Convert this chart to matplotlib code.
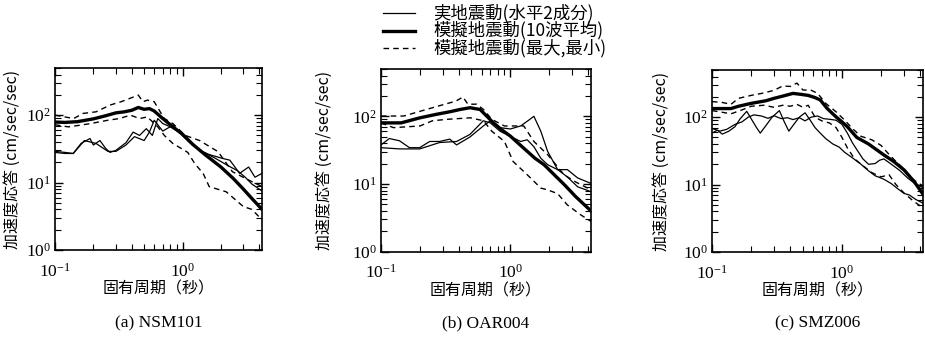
import matplotlib
matplotlib.use('Agg')
import matplotlib.pyplot as plt
from matplotlib.lines import Line2D
from matplotlib.ticker import LogLocator, NullFormatter

plt.rcParams['font.family'] = ['Noto Sans CJK JP', 'DejaVu Sans']

# ---- (a) NSM101 ----
a_obs1_T = [0.1, 0.12, 0.139, 0.16, 0.188, 0.2, 0.225, 0.25, 0.27, 0.3, 0.36, 0.41, 0.46, 0.52, 0.58, 0.64,
            0.7, 0.79, 0.94, 1.13, 1.36, 1.62, 2.06, 2.35, 2.8, 3.3, 3.7, 4.2]
a_obs1_A = [29, 28, 27, 38, 45, 36, 42, 32, 28, 30, 39, 56, 50, 63, 50, 89,
            75, 68, 56, 40, 30, 26, 22.8, 21.5, 13.7, 17, 12, 13.7]
a_obs2_T = [0.1, 0.12, 0.139, 0.17, 0.21, 0.26, 0.3, 0.36, 0.42, 0.5, 0.55, 0.6, 0.7, 0.84, 1.0, 1.2,
            1.43, 1.8, 2.3, 2.7, 3.1, 3.5, 4.2]
a_obs2_A = [28, 27, 27, 42, 38, 29, 29, 36, 48, 42, 56, 84, 58, 71, 50, 36,
            29, 23, 17.6, 15, 12, 9.5, 7.5]
a_mean_T = [0.1, 0.12, 0.15, 0.2, 0.25, 0.3, 0.35, 0.4, 0.45, 0.5, 0.55, 0.6, 0.7, 0.84, 1.0, 1.2,
            1.5, 2.0, 2.5, 3.0, 3.5, 4.2]
a_mean_A = [79, 78, 80, 88, 98, 108, 112, 118, 130, 122, 125, 115, 89, 67, 52, 37,
            26, 17, 11.5, 8, 5.8, 4.0]
a_max_T = [0.1, 0.14, 0.166, 0.21, 0.27, 0.33, 0.45, 0.49, 0.53, 0.6, 0.68, 0.72, 0.84, 1.05, 1.36,
           1.9, 2.46, 3.3, 4.2]
a_max_A = [100, 89, 106, 112, 141, 158, 198, 158, 167, 158, 106, 89, 75, 50, 42,
           28.7, 14.5, 10.9, 8.7]
a_min_T = [0.1, 0.127, 0.15, 0.19, 0.26, 0.32, 0.39, 0.46, 0.53, 0.64, 0.72, 0.84, 1.1, 1.25, 1.45,
           1.62, 2.2, 3.0, 3.5, 4.2]
a_min_A = [72, 67, 70, 75, 84, 89, 100, 89, 94, 67, 50, 38, 28, 19, 13.7,
           8.7, 7.3, 4.4, 4.0, 2.8]

# ---- (b) OAR004 ----
b_obs1_T = [0.1, 0.116, 0.139, 0.166, 0.199, 0.238, 0.284, 0.34, 0.384, 0.487, 0.617, 0.7, 0.835, 1.0,
            1.2, 1.35, 1.52, 1.72, 1.94, 2.32, 2.76, 3.31, 4.2]
b_obs1_A = [37.8, 47, 43.5, 34.4, 34.4, 42.5, 42.5, 46, 37.8, 49.5, 71.8, 86, 68, 65,
            72, 84.5, 100, 60, 30.4, 16.3, 16.3, 12.3, 10.2]
b_obs2_T = [0.1, 0.139, 0.199, 0.284, 0.384, 0.487, 0.617, 0.7, 0.835, 1.0, 1.2, 1.35, 1.52, 1.72,
            1.94, 2.32, 2.76, 3.31, 4.2]
b_obs2_A = [34.4, 33, 33, 41, 42.5, 54, 86, 80, 60, 50.6, 42.5, 45, 35.5, 24,
            19.3, 16.3, 12.7, 9.1, 7.7]
b_mean_T = [0.1, 0.143, 0.2, 0.268, 0.35, 0.407, 0.488, 0.584, 0.74, 0.85, 1.0, 1.15, 1.35, 1.55,
            1.82, 2.2, 2.61, 3.2, 4.2]
b_mean_A = [80, 80, 95, 107, 118, 126, 134, 126, 80, 64, 51, 40, 30.4, 24,
            19.3, 13.5, 9.8, 6.5, 4.0]
b_max_T = [0.1, 0.15, 0.25, 0.38, 0.43, 0.47, 0.55, 0.62, 0.72, 0.9, 1.0, 1.27, 1.52, 1.94, 2.6,
           3.2, 4.2]
b_max_A = [101, 101, 134, 168, 193, 151, 151, 126, 90, 72, 72, 72, 42.5, 27.2, 13.7,
           10.7, 8.2]
b_min_T = [0.1, 0.125, 0.2, 0.25, 0.33, 0.49, 0.62, 0.72, 0.9, 1.05, 1.35, 1.72, 1.94, 2.32, 2.76,
           3.5, 4.2]
b_min_A = [80, 68, 72, 86, 90.5, 95, 86, 60, 42.5, 21.5, 13.7, 8.7, 8.2, 7.2, 4.9,
           3.5, 2.8]

# ---- (c) SMZ006 ----
c_obs1_T = [0.1, 0.115, 0.13, 0.15, 0.17, 0.19, 0.21, 0.24, 0.27, 0.3, 0.34, 0.38, 0.42, 0.47, 0.52,
            0.58, 0.65, 0.72, 0.8, 0.9, 1.0, 1.1, 1.2, 1.3, 1.45, 1.6, 1.8, 1.95, 2.1, 2.4, 2.8,
            3.2, 3.6, 4.2]
c_obs1_A = [68, 62, 66, 78, 85, 100, 108, 104, 96, 105, 95, 98, 92, 98, 88,
            100, 104, 95, 93, 90, 78, 58, 42, 33, 24, 20, 20.5, 23, 24, 20, 16,
            12.5, 10.5, 9.0]
c_obs2_T = [0.1, 0.11, 0.12, 0.135, 0.15, 0.165, 0.185, 0.2, 0.22, 0.235, 0.26, 0.29, 0.33, 0.36, 0.39,
            0.43, 0.47, 0.52, 0.57, 0.62, 0.68, 0.75, 0.85, 0.95, 1.05, 1.2, 1.4, 1.6, 1.8, 2.1,
            2.4, 2.7, 3.0, 3.3, 3.7, 4.2]
c_obs2_A = [58, 64, 56, 62, 72, 95, 122, 95, 70, 58, 75, 100, 125, 85, 62,
            80, 100, 116, 90, 70, 58, 48, 40, 36, 30, 25, 20, 16, 13.5, 12,
            10.3, 8.6, 7.4, 7.0, 6.0, 5.3]
c_mean_T = [0.1, 0.14, 0.16, 0.2, 0.26, 0.3, 0.35, 0.42, 0.48, 0.55, 0.62, 0.68, 0.77, 0.9, 1.0,
            1.1, 1.3, 1.6, 2.1, 2.5, 3.0, 3.6, 4.2]
c_mean_A = [134, 134, 145, 160, 175, 190, 205, 225, 218, 210, 195, 180, 134, 101, 85,
            72, 50, 40, 27.5, 22, 16.5, 11, 7.2]
c_max_T = [0.1, 0.12, 0.14, 0.16, 0.2, 0.25, 0.3, 0.35, 0.4, 0.45, 0.5, 0.58, 0.65, 0.75, 0.9,
           1.05, 1.2, 1.4, 1.7, 2.0, 2.3, 2.6, 3.0, 3.5, 4.2]
c_max_A = [170, 165, 155, 190, 210, 228, 250, 290, 285, 320, 253, 250, 225, 160, 120,
           90, 68, 52, 46, 38, 28, 22, 17, 12, 9.5]
c_min_T = [0.1, 0.12, 0.14, 0.17, 0.2, 0.25, 0.3, 0.35, 0.4, 0.45, 0.5, 0.55, 0.62, 0.7, 0.8,
           0.9, 1.0, 1.1, 1.25, 1.45, 1.7, 2.0, 2.3, 2.6, 3.0, 3.5, 4.2]
c_min_A = [125, 118, 112, 128, 145, 150, 140, 150, 145, 155, 140, 150, 100, 88, 82,
           70, 50, 35, 24, 19, 15, 13, 14, 10, 7.5, 5.8, 4.5]

legend_labels = ['実地震動(水平2成分)', '模擬地震動(10波平均)', '模擬地震動(最大,最小)']
panel_titles = ['(a) NSM101', '(b) OAR004', '(c) SMZ006']
xlabel = '固有周期（秒）'
ylabel = '加速度応答 (cm/sec/sec)'

DASH = (0, (4, 3))
W, H = 925.0, 343.0


def draw_panel(ax, thin, thick, dashed):
  for T, A in thin:
    ax.plot(T, A, color='black', lw=0.9)
  ax.plot(thick[0], thick[1], color='black', lw=2.4)
  for T, A in dashed:
    ax.plot(T, A, color='black', lw=1.0, ls=DASH)
  ax.set_xscale('log')
  ax.set_yscale('log')
  ax.set_xlim(0.1, 4.2)
  ax.set_ylim(1, 500)
  for axis in (ax.xaxis, ax.yaxis):
    axis.set_minor_locator(LogLocator(base=10, subs=range(2, 10)))
    axis.set_minor_formatter(NullFormatter())
  ax.tick_params(which='both', direction='in', top=True, right=True,
                 labelfontfamily='Liberation Serif', labelsize=12.5)
  ax.tick_params(axis='x', which='both', pad=9)
  ax.tick_params(axis='y', which='both', pad=3)
  ax.tick_params(which='major', length=6, width=1.0)
  ax.tick_params(which='minor', length=4, width=0.8)
  for s in ax.spines.values():
    s.set_linewidth(1.2)
  ax.set_xlabel(xlabel, fontsize=11.5, labelpad=0)
  ax.set_ylabel(ylabel, fontsize=11.5)


fig = plt.figure(figsize=(9.25, 3.43), dpi=100)

# axes boxes in pixels: left, top, right, bottom
boxes = [(55, 68, 262, 250), (381, 69, 591, 251.7), (712, 70, 923, 252)]
ylab_px = [21, 333, 670]   # right edge of the rotated y label

panels = [
  ([(a_obs1_T, a_obs1_A), (a_obs2_T, a_obs2_A)], (a_mean_T, a_mean_A), [(a_max_T, a_max_A), (a_min_T, a_min_A)]),
  ([(b_obs1_T, b_obs1_A), (b_obs2_T, b_obs2_A)], (b_mean_T, b_mean_A), [(b_max_T, b_max_A), (b_min_T, b_min_A)]),
  ([(c_obs1_T, c_obs1_A), (c_obs2_T, c_obs2_A)], (c_mean_T, c_mean_A), [(c_max_T, c_max_A), (c_min_T, c_min_A)]),
]

for i, (l, t, r, b) in enumerate(boxes):
  ax = fig.add_axes([l / W, (H - b) / H, (r - l) / W, (b - t) / H])
  thin, thick, dashed = panels[i]
  draw_panel(ax, thin, thick, dashed)
  ax.yaxis.set_label_coords((ylab_px[i] - l) / (r - l), 0.5)
  fig.text((l + r) / 2 / W, (H - 323) / H, panel_titles[i], ha='center', va='center',
           family='Liberation Serif', fontsize=12.5)

# legend drawn by hand so the rows sit close like the original
styles = [dict(lw=0.9), dict(lw=2.4), dict(lw=1.0, ls=DASH)]
for i, lab in enumerate(legend_labels):
  yy = (H - (13 + 17.5 * i)) / H
  fig.add_artist(Line2D([383 / W, 415 / W], [yy, yy], color='black', transform=fig.transFigure, **styles[i]))
  fig.text(433 / W, yy, lab, ha='left', va='center', fontsize=12.5)

fig.savefig('out.png', dpi=100)
